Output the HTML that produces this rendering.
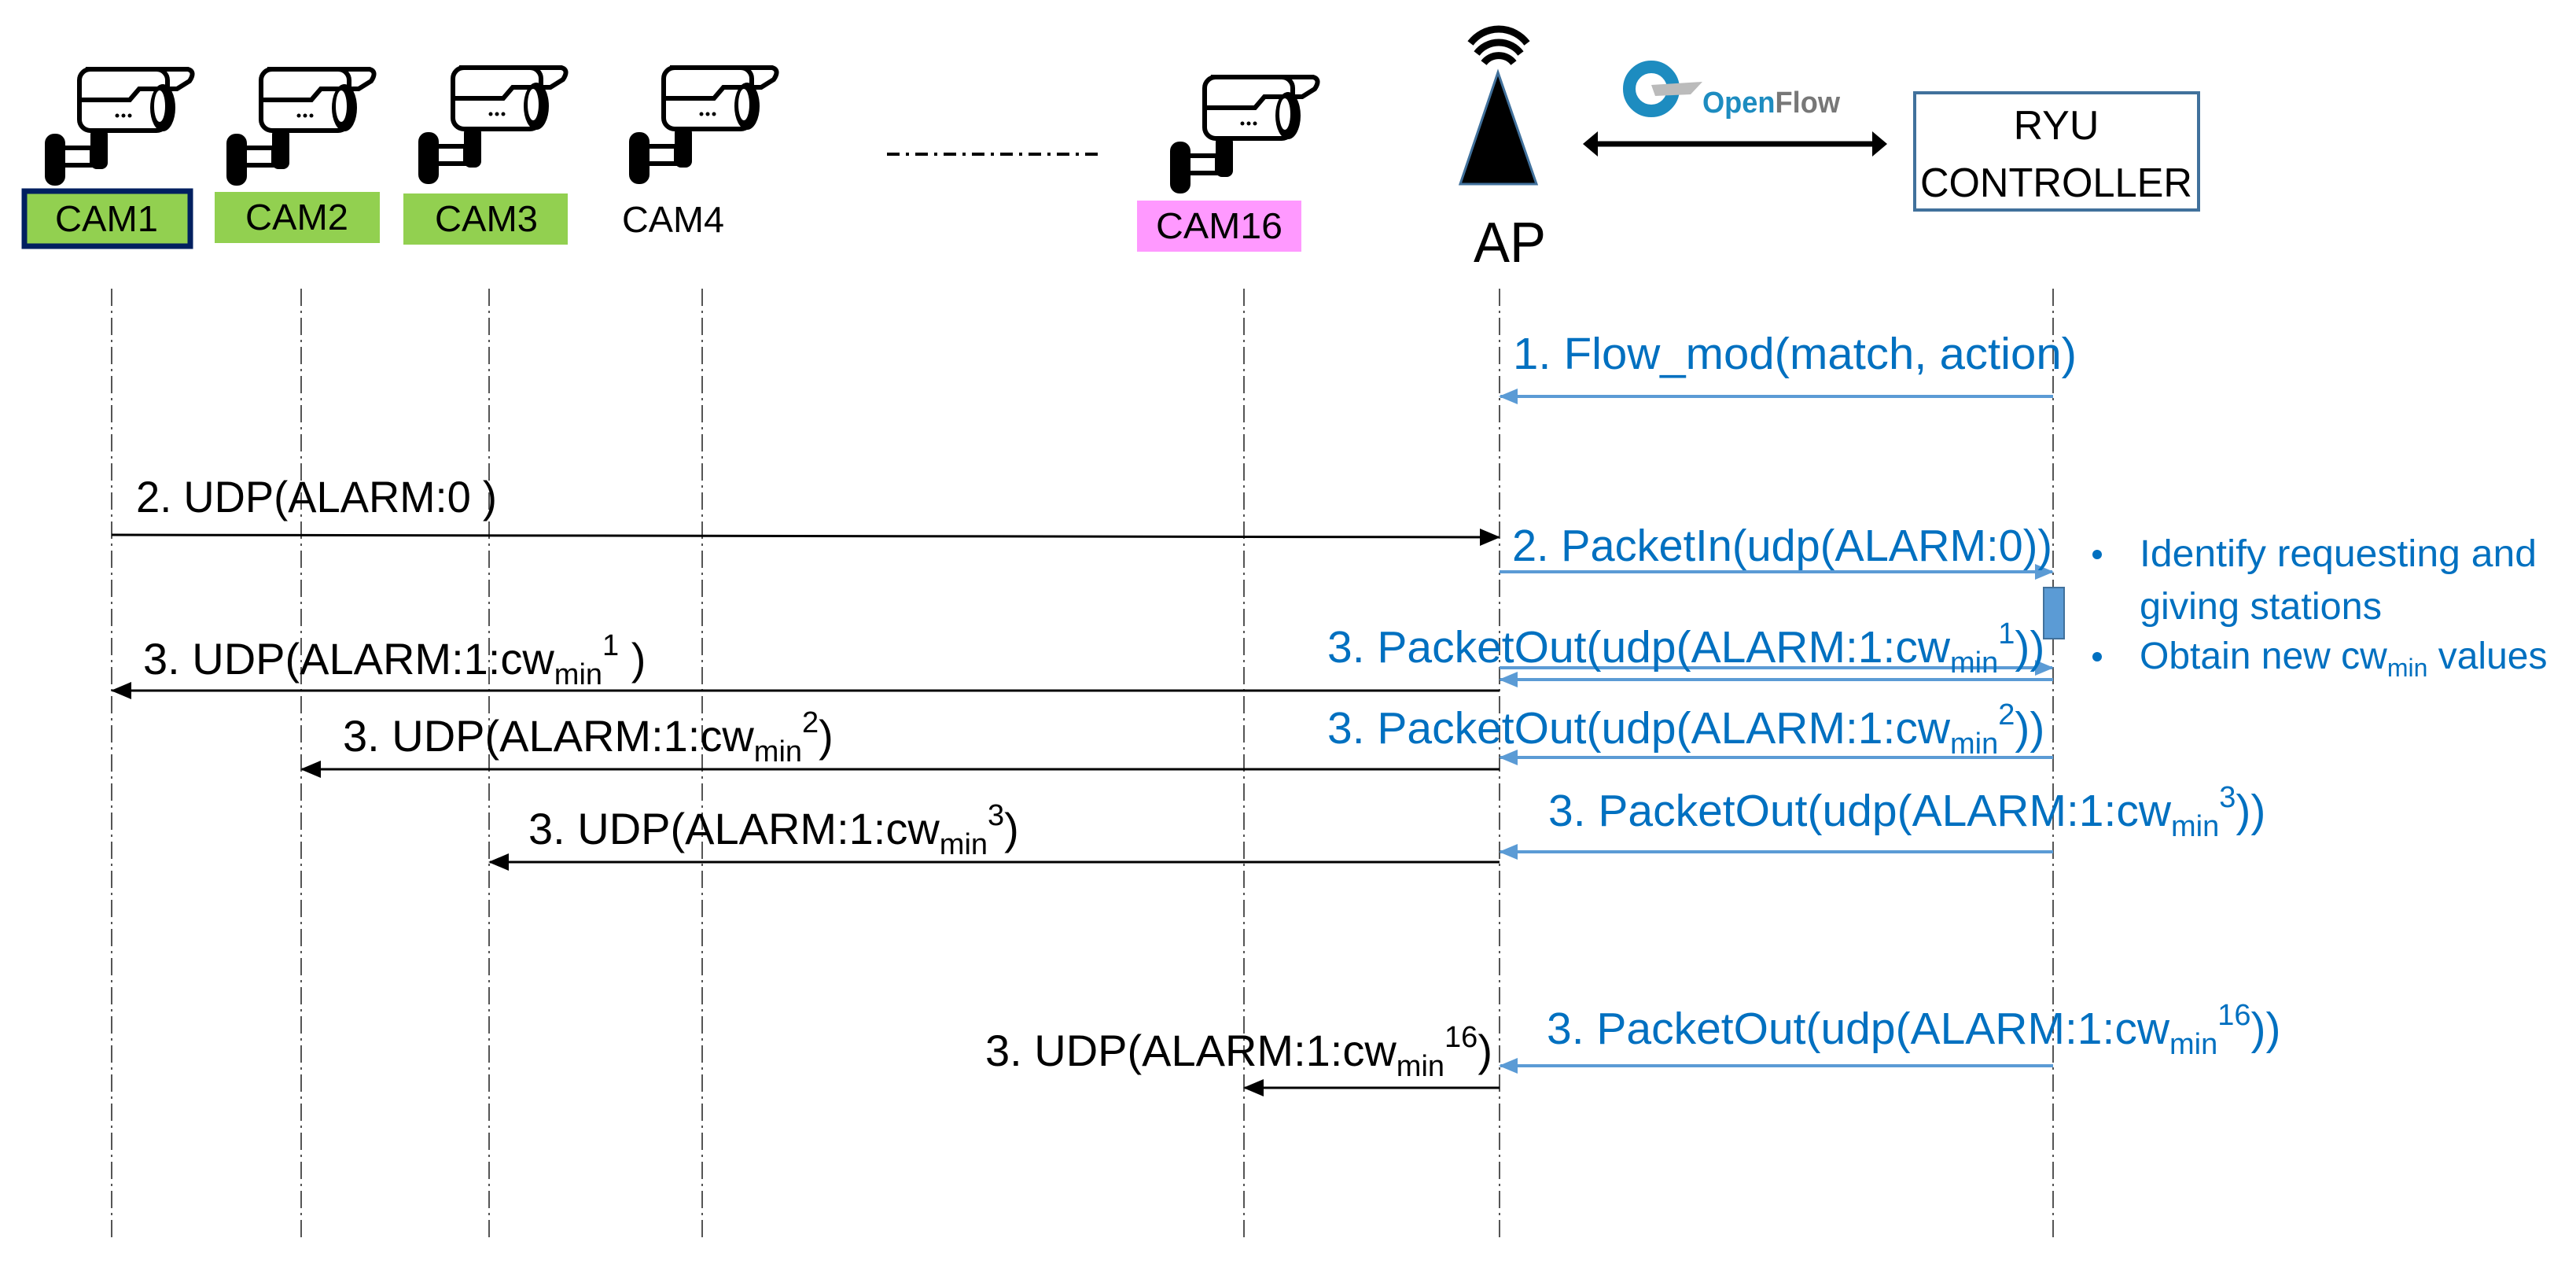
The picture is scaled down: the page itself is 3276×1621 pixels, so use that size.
<!DOCTYPE html>
<html><head><meta charset="utf-8"><style>html,body{margin:0;padding:0;background:#fff}svg{display:block}</style></head>
<body>
<svg width="3276" height="1621" viewBox="0 0 3276 1621" xmlns="http://www.w3.org/2000/svg" font-family="'Liberation Sans', sans-serif">
<defs>
<g id="cam">
  <rect x="44" y="3" width="112" height="78" rx="14" fill="#fff" stroke="#000" stroke-width="6"/>
  <path d="M52,3 L182,3 Q192,6 184,18 L168,28 L120,28 L108,42 L46,42" fill="none" stroke="#000" stroke-width="6"/>
  <ellipse cx="150" cy="52" rx="16" ry="30" fill="#000"/>
  <ellipse cx="146" cy="50" rx="7" ry="20" fill="#fff"/>
  <circle cx="92" cy="62" r="2.5" fill="#000"/><circle cx="100" cy="62" r="2.5" fill="#000"/><circle cx="108" cy="62" r="2.5" fill="#000"/>
  <rect x="58" y="78" width="22" height="52" rx="8" fill="#000"/>
  <rect x="22" y="103" width="38" height="22" fill="#fff" stroke="#000" stroke-width="6"/>
  <rect x="0" y="85" width="26" height="66" rx="12" fill="#000"/>
</g>
<marker id="abl" markerWidth="24" markerHeight="24" refX="22" refY="12" orient="auto" viewBox="0 0 24 24" markerUnits="userSpaceOnUse"><path d="M0,2 L24,12 L0,22 z" fill="#5b9bd5"/></marker>
<marker id="abk" markerWidth="26" markerHeight="26" refX="24" refY="13" orient="auto" viewBox="0 0 26 26" markerUnits="userSpaceOnUse"><path d="M0,2 L26,13 L0,24 z" fill="#000"/></marker>
</defs>

<use href="#cam" x="57" y="85"/>
<use href="#cam" x="288" y="85"/>
<use href="#cam" x="532" y="83"/>
<use href="#cam" x="800" y="83"/>
<use href="#cam" x="1488" y="95"/>

<rect x="31" y="243" width="211" height="70" fill="#92d050" stroke="#002060" stroke-width="7"/>
<rect x="273" y="244" width="210" height="65" fill="#92d050"/>
<rect x="513" y="246" width="209" height="65" fill="#92d050"/>
<rect x="1446" y="255" width="209" height="65" fill="#ff99ff"/>
<g font-size="46" fill="#000">
<text x="70" y="294" textLength="131" lengthAdjust="spacingAndGlyphs">CAM1</text>
<text x="312" y="292" textLength="131" lengthAdjust="spacingAndGlyphs">CAM2</text>
<text x="553" y="294" textLength="131" lengthAdjust="spacingAndGlyphs">CAM3</text>
<text x="791" y="295" textLength="130" lengthAdjust="spacingAndGlyphs">CAM4</text>
<text x="1470" y="303" textLength="161" lengthAdjust="spacingAndGlyphs">CAM16</text>
</g>
<line x1="1128" y1="196" x2="1400" y2="196" stroke="#000" stroke-width="4" stroke-dasharray="16,8,4,8"/>

<path d="M1870,55 A45,45 0 0 1 1942,55" fill="none" stroke="#000" stroke-width="9"/>
<path d="M1878,68 A35,35 0 0 1 1934,68" fill="none" stroke="#000" stroke-width="9"/>
<path d="M1887,80 A24,24 0 0 1 1925,80" fill="none" stroke="#000" stroke-width="9"/>
<path d="M1905,92 L1954,234 L1857,234 Z" fill="#000" stroke="#41719c" stroke-width="3"/>
<text x="1874" y="333" font-size="72" textLength="92" lengthAdjust="spacingAndGlyphs">AP</text>

<circle cx="2100" cy="113" r="28" fill="none" stroke="#1d8cc0" stroke-width="16"/>
<path d="M2100,108 L2165,104 L2150,120 L2105,122 Z" fill="#bbb"/>
<text x="2165" y="143" font-size="38" font-weight="bold" textLength="175" lengthAdjust="spacingAndGlyphs"><tspan fill="#1d8cc0">Open</tspan><tspan fill="#777">Flow</tspan></text>
<line x1="2030" y1="183" x2="2383" y2="183" stroke="#000" stroke-width="7"/>
<path d="M2013,183 L2032,167 L2032,199 Z" fill="#000"/>
<path d="M2400,183 L2381,167 L2381,199 Z" fill="#000"/>

<rect x="2435" y="118" width="361" height="149" fill="#fff" stroke="#41719c" stroke-width="4"/>
<text x="2615" y="177" font-size="52" text-anchor="middle">RYU</text>
<text x="2615" y="250" font-size="52" text-anchor="middle" textLength="346" lengthAdjust="spacingAndGlyphs">CONTROLLER</text>

<g stroke="#555" stroke-width="2" stroke-dasharray="22,6,3,6">
<line x1="142" y1="367" x2="142" y2="1577"/>
<line x1="383" y1="367" x2="383" y2="1577"/>
<line x1="622" y1="367" x2="622" y2="1577"/>
<line x1="893" y1="367" x2="893" y2="1577"/>
<line x1="1582" y1="367" x2="1582" y2="1577"/>
<line x1="1907" y1="367" x2="1907" y2="1577"/>
<line x1="2611" y1="367" x2="2611" y2="1577"/>
</g>
<rect x="2599" y="747" width="26" height="65" fill="#5b9bd5" stroke="#41719c" stroke-width="2"/>

<g stroke="#5b9bd5" stroke-width="4" fill="none">
<line x1="2611" y1="504" x2="1908" y2="504" marker-end="url(#abl)"/>
<line x1="1907" y1="727" x2="2610" y2="727" marker-end="url(#abl)"/>
<line x1="1907" y1="849" x2="2610" y2="849" marker-end="url(#abl)"/>
<line x1="2611" y1="864" x2="1908" y2="864" marker-end="url(#abl)"/>
<line x1="2611" y1="963" x2="1908" y2="963" marker-end="url(#abl)"/>
<line x1="2611" y1="1083" x2="1908" y2="1083" marker-end="url(#abl)"/>
<line x1="2611" y1="1355" x2="1908" y2="1355" marker-end="url(#abl)"/>
</g>
<g stroke="#000" stroke-width="3" fill="none">
<line x1="142" y1="680" x2="1906" y2="683" marker-end="url(#abk)"/>
<line x1="1907" y1="878" x2="143" y2="878" marker-end="url(#abk)"/>
<line x1="1907" y1="978" x2="384" y2="978" marker-end="url(#abk)"/>
<line x1="1907" y1="1096" x2="623" y2="1096" marker-end="url(#abk)"/>
<line x1="1907" y1="1383" x2="1583" y2="1383" marker-end="url(#abk)"/>
</g>

<g font-size="56" fill="#000">
<text x="173" y="651" textLength="459" lengthAdjust="spacingAndGlyphs">2. UDP(ALARM:0 )</text>
<text x="182" y="857">3. UDP(ALARM:1:cw<tspan font-size="38" dy="13">min</tspan><tspan font-size="38" dy="-37">1</tspan><tspan dy="24"> )</tspan></text>
<text x="436" y="955">3. UDP(ALARM:1:cw<tspan font-size="38" dy="13">min</tspan><tspan font-size="38" dy="-37">2</tspan><tspan dy="24">)</tspan></text>
<text x="672" y="1073">3. UDP(ALARM:1:cw<tspan font-size="38" dy="13">min</tspan><tspan font-size="38" dy="-37">3</tspan><tspan dy="24">)</tspan></text>
<text x="1253" y="1355">3. UDP(ALARM:1:cw<tspan font-size="38" dy="13">min</tspan><tspan font-size="38" dy="-37">16</tspan><tspan dy="24">)</tspan></text>
</g>
<g font-size="57" fill="#0070c0">
<text x="1924" y="469" textLength="717" lengthAdjust="spacingAndGlyphs">1. Flow_mod(match, action)</text>
<text x="1923" y="713" textLength="687" lengthAdjust="spacingAndGlyphs">2. PacketIn(udp(ALARM:0))</text>
<text x="1688" y="842">3. PacketOut(udp(ALARM:1:cw<tspan font-size="38" dy="13">min</tspan><tspan font-size="38" dy="-37">1</tspan><tspan dy="24">))</tspan></text>
<text x="1688" y="945">3. PacketOut(udp(ALARM:1:cw<tspan font-size="38" dy="13">min</tspan><tspan font-size="38" dy="-37">2</tspan><tspan dy="24">))</tspan></text>
<text x="1969" y="1050">3. PacketOut(udp(ALARM:1:cw<tspan font-size="38" dy="13">min</tspan><tspan font-size="38" dy="-37">3</tspan><tspan dy="24">))</tspan></text>
<text x="1967" y="1327">3. PacketOut(udp(ALARM:1:cw<tspan font-size="38" dy="13">min</tspan><tspan font-size="38" dy="-37">16</tspan><tspan dy="24">))</tspan></text>
</g>
<g font-size="48" fill="#0070c0">
<circle cx="2667" cy="705" r="6"/>
<text x="2721" y="720" textLength="505" lengthAdjust="spacingAndGlyphs">Identify requesting and</text>
<text x="2721" y="787" textLength="308" lengthAdjust="spacingAndGlyphs">giving stations</text>
<circle cx="2667" cy="835" r="6"/>
<text x="2721" y="850">Obtain new cw<tspan font-size="32" dy="10">min</tspan><tspan dy="-10"> values</tspan></text>
</g>
</svg>
</body></html>
